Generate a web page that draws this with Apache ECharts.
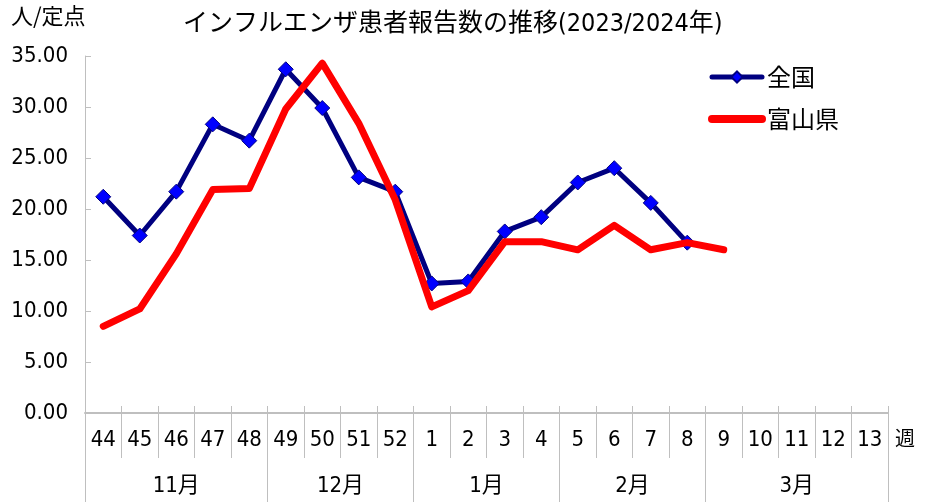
<!DOCTYPE html>
<html>
<head>
<meta charset="utf-8">
<script src="https://cdn.jsdelivr.net/npm/echarts@6/dist/echarts.min.js"></script>
<style>
  html, body { margin: 0; padding: 0; background: #fff; }
  .main { width: 932px; height: 502px; }
</style>
</head>
<body>
<div class="main"></div>
<script>
// 週の区分と月
var weeks = ['44', '45', '46', '47', '48', '49', '50', '51', '52', '1', '2', '3', '4', '5', '6', '7', '8', '9', '10', '11', '12', '13'];
var months = ['11月', '12月', '1月', '2月', '3月'];
var monthWeeks = [5, 4, 4, 4, 5];

// 定点あたり報告数
var zenkoku = [21.2, 17.4, 21.7, 28.3, 26.7, 33.7, 29.9, 23.1, 21.7, 12.7, 12.9, 17.8, 19.2, 22.6, 24.0, 20.6, 16.7, null, null, null, null, null];
var toyama = [8.5, 10.2, 15.6, 21.9, 22.0, 29.8, 34.3, 28.4, 20.9, 10.4, 12.0, 16.8, 16.8, 16.0, 18.4, 16.0, 16.7, 16.0, null, null, null, null];

var yMin = 0, yMax = 35, yStep = 5;

var numFont = "'DejaVu Sans Condensed', 'Noto Sans CJK JP', sans-serif";
var jpFont = "'Noto Sans CJK JP', sans-serif";
var gray = '#bfbfbf';

// 月の境目と中央
var monthEdges = [0];
var monthMids = [];
var monthByMid = {};
monthWeeks.forEach(function (n, i) {
  var start = monthEdges[monthEdges.length - 1];
  monthEdges.push(start + n);
  monthMids.push(start + n / 2);
  monthByMid[start + n / 2] = months[i];
});

var chart = echarts.init(document.querySelector('.main'));

var option = {
  animation: false,
  title: {
    text: 'インフルエンザ患者報告数の推移(2023/2024年)',
    left: 178,
    top: 7,
    textStyle: { fontFamily: numFont, fontSize: 25, fontWeight: 'normal', color: '#000' }
  },
  legend: {
    orient: 'vertical',
    left: 703,
    top: 60,
    itemWidth: 50,
    itemHeight: 14,
    itemGap: 18,
    textStyle: { fontFamily: jpFont, fontSize: 24, color: '#000' },
    data: [
      { name: '全国', lineStyle: { width: 5, cap: 'round' } },
      { name: '富山県', itemStyle: { opacity: 0 }, lineStyle: { width: 8, cap: 'round' } }
    ]
  },
  grid: { left: 85, right: 44, top: 56, bottom: 89, outerBoundsMode: 'none' },
  xAxis: [{
    // 週
    type: 'category',
    position: 'bottom',
    data: weeks,
    boundaryGap: true,
    axisLine: { lineStyle: { color: gray, width: 2 } },
    axisTick: { show: true, interval: 0, length: 45, lineStyle: { color: gray, width: 1 } },
    axisLabel: { interval: 0, margin: 16, fontFamily: numFont, fontSize: 22, color: '#000' }
  }, {
    // 軸の上に出る短い目盛
    type: 'category',
    position: 'bottom',
    data: weeks,
    boundaryGap: true,
    axisLine: { show: false },
    axisTick: { show: true, interval: 0, inside: true, length: 7, lineStyle: { color: gray, width: 1 } },
    axisLabel: { show: false }
  }, {
    // 月
    type: 'value',
    position: 'bottom',
    min: 0,
    max: weeks.length,
    splitLine: { show: false },
    axisLine: { show: false },
    axisTick: { customValues: monthEdges, length: 92, lineStyle: { color: gray, width: 1 } },
    axisLabel: {
      customValues: monthMids,
      margin: 62,
      fontFamily: numFont,
      fontSize: 22,
      color: '#000',
      formatter: function (v) { return monthByMid[v] || ''; }
    }
  }],
  yAxis: {
    type: 'value',
    min: yMin,
    max: yMax,
    interval: yStep,
    splitLine: { show: false },
    axisLine: { show: true, lineStyle: { color: gray, width: 1 } },
    axisTick: { show: true, inside: true, length: 6, lineStyle: { color: gray } },
    axisLabel: {
      margin: 17,
      fontFamily: numFont,
      fontSize: 22,
      color: '#000',
      formatter: function (v) { return v.toFixed(2); }
    }
  },
  graphic: [{
    type: 'text',
    left: 11,
    top: 5,
    style: { text: '人/定点', font: '22px ' + jpFont, fill: '#000' }
  }, {
    type: 'text',
    left: 895,
    top: 428,
    style: { text: '週', font: '20px ' + jpFont, fill: '#000' }
  }],
  series: [{
    name: '全国',
    type: 'line',
    data: zenkoku,
    z: 2,
    symbol: 'diamond',
    symbolSize: 15,
    showAllSymbol: true,
    lineStyle: { color: '#000080', width: 5, join: 'round' },
    itemStyle: { color: '#0000ff', borderColor: '#000080', borderWidth: 1 }
  }, {
    name: '富山県',
    type: 'line',
    data: toyama,
    z: 3,
    symbol: 'none',
    lineStyle: { color: '#ff0000', width: 7, cap: 'round', join: 'round' },
    itemStyle: { color: '#ff0000' }
  }]
};

chart.setOption(option);
</script>
</body>
</html>
